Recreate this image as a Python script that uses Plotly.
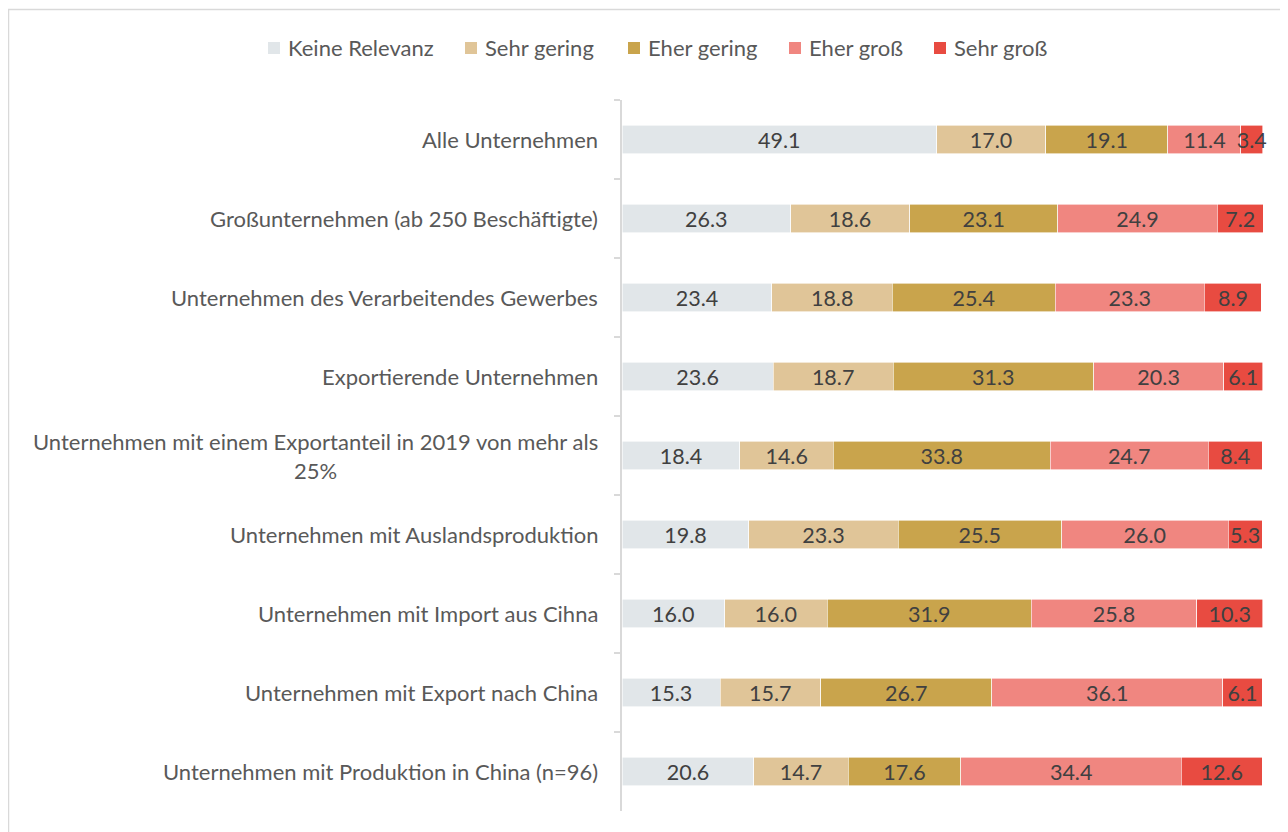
import plotly.graph_objects as go

categories = [
    "Alle Unternehmen",
    "Großunternehmen (ab 250 Beschäftigte)",
    "Unternehmen des Verarbeitendes Gewerbes",
    "Exportierende Unternehmen",
    "Unternehmen mit einem Exportanteil in 2019 von mehr als<br>25%",
    "Unternehmen mit Auslandsproduktion",
    "Unternehmen mit Import aus Cihna",
    "Unternehmen mit Export nach China",
    "Unternehmen mit Produktion in China (n=96)",
]

series_names = ["Keine Relevanz", "Sehr gering", "Eher gering", "Eher groß", "Sehr groß"]

keine_relevanz = [49.1, 26.3, 23.4, 23.6, 18.4, 19.8, 16.0, 15.3, 20.6]
sehr_gering = [17.0, 18.6, 18.8, 18.7, 14.6, 23.3, 16.0, 15.7, 14.7]
eher_gering = [19.1, 23.1, 25.4, 31.3, 33.8, 25.5, 31.9, 26.7, 17.6]
eher_gross = [11.4, 24.9, 23.3, 20.3, 24.7, 26.0, 25.8, 36.1, 34.4]
sehr_gross = [3.4, 7.2, 8.9, 6.1, 8.4, 5.3, 10.3, 6.1, 12.6]

series_values = [keine_relevanz, sehr_gering, eher_gering, eher_gross, sehr_gross]
colors = ["#e1e6e9", "#e0c598", "#c9a44c", "#f08680", "#e84b41"]

FONT = "Lato"
TXT = "#595959"

# page geometry (page has an 8px body margin)
W, H = 1280, 824
ML, MT, MR, MB = 614, 92, 24, 21
PL = 8 + ML                      # plot left on page
PW = W - ML - MR                 # plot width
PT = 8 + MT                      # plot top on page
PH = H - MT - MB                 # plot height


def px(x):
    return (x - PL) / PW


def py(y):
    return (PT + PH - y) / PH


fig = go.Figure()
for name, vals, col in zip(series_names, series_values, colors):
    fig.add_trace(go.Bar(
        y=categories, x=vals, name=name, orientation="h",
        marker=dict(color=col, line=dict(color="white", width=0.6)),
        text=[f"{v:.1f}" for v in vals],
        textposition="inside", insidetextanchor="middle",
        constraintext="none", textangle=0, cliponaxis=False,
        textfont=dict(family=FONT, size=21.5, color="#404040"),
        hoverinfo="x+y+name", showlegend=False,
    ))

# category labels as annotations (centered multi-line like the original)
for c in categories:
    fig.add_annotation(
        x=0, xref="paper", y=c, yref="y", xanchor="right", xshift=-22,
        text=c, showarrow=False, align="center",
        font=dict(family=FONT, size=22, color=TXT),
    )

# manual legend (swatch + text)
legend_swatch_x = [268, 465, 628, 789, 934]
LEG_Y = 48
SW = 12
for name, col, sx in zip(series_names, colors, legend_swatch_x):
    fig.add_shape(type="rect", xref="paper", yref="paper",
                  x0=px(sx), x1=px(sx + SW), y0=py(LEG_Y + SW / 2), y1=py(LEG_Y - SW / 2),
                  fillcolor=col, line=dict(width=0))
    fig.add_annotation(x=px(sx + SW + 6), xref="paper", y=py(LEG_Y), yref="paper",
                       xanchor="left", yanchor="middle", text=name, showarrow=False,
                       font=dict(family=FONT, size=22, color=TXT))

# outer light-gray frame (right/bottom cut off in the original)
fig.add_shape(type="rect", xref="paper", yref="paper",
              x0=px(8.5), x1=px(1300), y0=py(845), y1=py(9.5),
              line=dict(color="#d9d9d9", width=1.5), layer="below")

fig.update_layout(
    width=W, height=H,
    barmode="stack", bargap=0.645,
    paper_bgcolor="white", plot_bgcolor="white",
    margin=dict(l=ML, r=MR, t=MT, b=MB),
    font=dict(family=FONT, size=22, color=TXT),
    showlegend=False,
    xaxis=dict(range=[0, 100.2], visible=False, fixedrange=True),
    yaxis=dict(autorange="reversed", showticklabels=False,
               showline=True, linecolor="#d9d9d9", linewidth=1.5,
               ticks="outside", tickson="boundaries", ticklen=6,
               tickcolor="#d9d9d9", tickwidth=1.5, showgrid=False),
)

fig.write_html("out.html")
